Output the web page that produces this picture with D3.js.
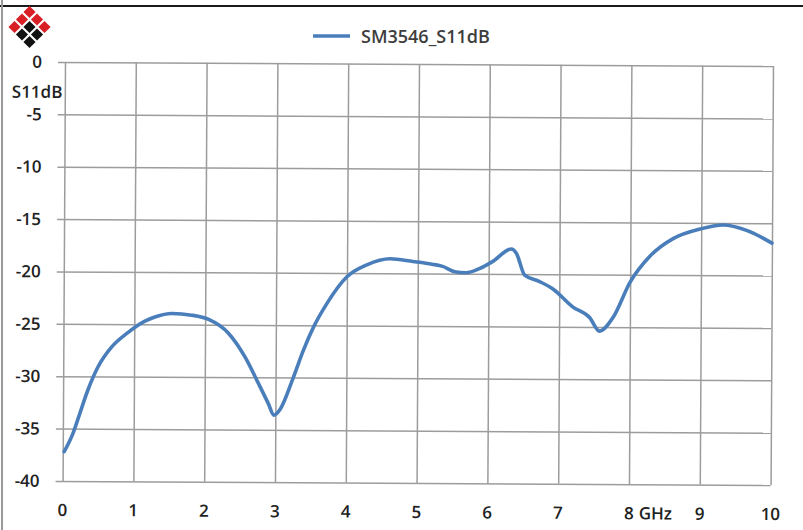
<!DOCTYPE html>
<html><head><meta charset="utf-8">
<script src="https://cdn.jsdelivr.net/npm/d3@7"></script>
<style>
html,body{margin:0;padding:0;background:#fff;}
svg{display:block;font-family:"Open Sans",sans-serif;}
</style></head>
<body>
<svg id="chart" width="803" height="530"></svg>
<script>
const seriesName = "SM3546_S11dB";
const freqGHz = [0.02,0.14,0.235,0.35,0.49,0.68,0.91,1.15,1.29,1.53,1.81,2.05,2.33,2.57,2.76,2.90,2.98,3.07,3.25,3.39,3.53,3.72,4.00,4.28,4.61,4.93,5.20,5.35,5.52,5.68,5.87,6.06,6.32,6.39,6.51,6.72,6.91,7.19,7.43,7.57,7.76,8.00,8.28,8.61,8.98,9.31,9.64,10.00];
const s11dB   = [-37.2,-35.5,-33.6,-31.3,-29.1,-27.2,-25.8,-24.7,-24.3,-23.95,-24.1,-24.5,-25.8,-28.1,-30.6,-32.5,-33.6,-33.0,-30.0,-27.4,-25.2,-22.9,-20.35,-19.2,-18.6,-18.85,-19.1,-19.3,-19.8,-19.9,-19.5,-18.8,-17.6,-18.0,-20.1,-20.7,-21.4,-23.1,-24.1,-25.4,-24.1,-20.7,-18.2,-16.5,-15.6,-15.2,-15.7,-16.9];
const xTickValues = [0,1,2,3,4,5,6,7,8,9,10];
const xTickLabels = ["0","1","2","3","4","5","6","7","8 GHz","9","10"];
const yTickValues = [0,-5,-10,-15,-20,-25,-30,-35,-40];
const yAxisLabel = "S11dB";

const svg = d3.select("#chart");
const L = 65, R = 773, T = 62, B = 481;

// frame of the scanned picture
svg.append("line").attr("x1",0).attr("x2",803).attr("y1",6).attr("y2",6)
  .attr("stroke","#1a1a1a").attr("stroke-width",2.2);
svg.append("line").attr("x1",2).attr("x2",2).attr("y1",0).attr("y2",530)
  .attr("stroke","#9a9a9a").attr("stroke-width",2);

// logo: 3x3 grid of squares turned 45 degrees
const logo = svg.append("g").attr("transform","translate(29.5,12) rotate(45)");
const cell = 10.6, sq = 8.6;
for (let i=0;i<3;i++) for (let j=0;j<3;j++) {
  logo.append("rect").attr("x", j*cell - sq/2).attr("y", i*cell - sq/2)
    .attr("width", sq).attr("height", sq)
    .attr("fill", (i===0 || j===0) ? "#d81f26" : "#111");
}

// legend
svg.append("line").attr("x1",313).attr("x2",350).attr("y1",36).attr("y2",36)
  .attr("stroke","#4a7ebb").attr("stroke-width",3.5);
svg.append("text").attr("x",361).attr("y",42.5).text(seriesName)
  .attr("font-size",18).attr("font-weight",600).attr("fill","#3d3d3d");

const g = svg.append("g").attr("transform",`rotate(0.33,${L},${T})`);
const x = d3.scaleLinear().domain([0,10]).range([L,R]);
const y = d3.scaleLinear().domain([-40,0]).range([B,T]);

// horizontal grid (extending left as ticks)
g.append("g").attr("transform",`translate(${L},0)`)
  .call(d3.axisLeft(y).tickValues(yTickValues).tickSize(-(R-L)).tickSizeOuter(0).tickFormat(""))
  .call(s=>s.select(".domain").remove())
  .call(s=>s.selectAll(".tick line").attr("x1",-7).attr("stroke","#9c9c9c").attr("stroke-width",1.5));
// vertical grid
g.append("g").attr("transform",`translate(0,${B})`)
  .call(d3.axisBottom(x).tickValues(xTickValues).tickSize(-(B-T)).tickSizeOuter(0).tickFormat(""))
  .call(s=>s.select(".domain").remove())
  .call(s=>s.selectAll(".tick line").attr("stroke","#9c9c9c").attr("stroke-width",1.5));

// y labels
g.selectAll(".ylab").data(yTickValues).join("text").attr("class","ylab")
  .attr("x",L-23).attr("y",d=>y(d)+6).attr("text-anchor","end")
  .attr("font-size",17).attr("font-weight",600).attr("fill","#222").text(d=>d);
g.append("text").attr("x",12).attr("y",98).text(yAxisLabel)
  .attr("font-size",17).attr("font-weight",600).attr("fill","#222");

// x labels
xTickValues.forEach((v,i)=>{
  const parts = xTickLabels[i].split(" ");
  const t = g.append("text").attr("x",x(v)).attr("y",B+35).attr("text-anchor","middle")
    .attr("font-size",17).attr("font-weight",600).attr("fill","#222").text(parts[0]);
  if (parts.length>1) {
    const w = t.node().getComputedTextLength();
    g.append("text").attr("x",x(v)+w/2+5).attr("y",B+35)
      .attr("font-size",17).attr("font-weight",600).attr("fill","#222").text(parts.slice(1).join(" "));
  }
});

// curve
const line = d3.line().x((d,i)=>x(freqGHz[i])).y(d=>y(d)).curve(d3.curveMonotoneX);
g.append("path").datum(s11dB).attr("d",line).attr("fill","none")
  .attr("stroke","#4a7ebb").attr("stroke-width",3.6).attr("stroke-linejoin","round").attr("stroke-linecap","round");
</script>
</body></html>
